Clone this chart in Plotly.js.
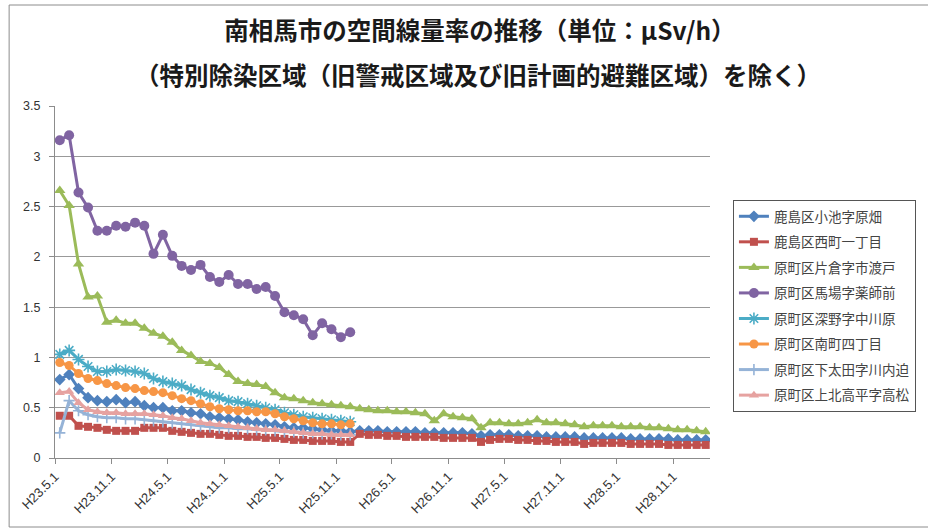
<!DOCTYPE html>
<html>
<head>
<meta charset="utf-8">
<script src="https://cdn.plot.ly/plotly-3.0.1.min.js"></script>
<style>
html,body{margin:0;padding:0;background:#fff;}
#chart{width:928px;height:529px;}
</style>
</head>
<body>
<div id="chart"></div>
<script>
// ---- data (monthly, starting H23.5 = May 2011) ----
const startYear = 2011, startMonth = 5, monthCount = 70;

const seriesNames = [
  "鹿島区小池字原畑",
  "鹿島区西町一丁目",
  "原町区片倉字市渡戸",
  "原町区馬場字薬師前",
  "原町区深野字中川原",
  "原町区南町四丁目",
  "原町区下太田字川内迫",
  "原町区上北高平字高松"
];

const koikeHarahata = [0.78,0.83,0.69,0.60,0.57,0.56,0.58,0.55,0.56,0.52,0.50,0.50,0.47,0.47,0.45,0.44,0.41,0.40,0.39,0.38,
  0.36,0.35,0.34,0.33,0.31,0.30,0.30,0.29,0.28,0.27,0.27,0.26,0.27,0.27,0.27,0.26,0.26,0.26,0.26,0.25,
  0.25,0.25,0.25,0.25,0.24,0.22,0.23,0.23,0.23,0.22,0.22,0.22,0.21,0.21,0.21,0.21,0.20,0.20,0.20,0.20,
  0.20,0.19,0.19,0.19,0.19,0.19,0.18,0.18,0.18,0.18];

const nishimachi1 = [0.42,0.42,0.32,0.31,0.30,0.28,0.27,0.27,0.27,0.30,0.30,0.30,0.27,0.26,0.25,0.24,0.24,0.23,0.22,0.22,
  0.21,0.21,0.20,0.20,0.19,0.18,0.18,0.17,0.17,0.17,0.16,0.16,0.24,0.23,0.23,0.22,0.22,0.21,0.21,0.21,
  0.21,0.20,0.20,0.20,0.20,0.16,0.18,0.19,0.19,0.18,0.18,0.17,0.17,0.16,0.16,0.16,0.14,0.15,0.15,0.15,
  0.15,0.14,0.14,0.14,0.14,0.13,0.13,0.13,0.13,0.13];

const katakuraIchiwatado = [2.66,2.51,1.93,1.60,1.61,1.35,1.37,1.34,1.34,1.29,1.24,1.21,1.15,1.07,1.02,0.96,0.94,0.90,0.83,0.76,
  0.74,0.73,0.71,0.65,0.60,0.59,0.57,0.55,0.54,0.53,0.52,0.51,0.49,0.48,0.47,0.47,0.46,0.46,0.45,0.44,
  0.37,0.44,0.41,0.40,0.39,0.30,0.35,0.35,0.34,0.34,0.35,0.38,0.35,0.35,0.34,0.33,0.31,0.32,0.32,0.32,
  0.31,0.31,0.31,0.30,0.30,0.29,0.28,0.28,0.27,0.26];

const babaYakushimae = [3.16,3.21,2.64,2.49,2.26,2.26,2.31,2.30,2.34,2.31,2.03,2.22,2.01,1.91,1.87,1.92,1.80,1.75,1.82,1.73,
  1.73,1.68,1.70,1.61,1.45,1.42,1.38,1.22,1.34,1.28,1.20,1.25];

const fukanoNakagawara = [1.03,1.07,0.98,0.91,0.86,0.86,0.88,0.87,0.86,0.84,0.79,0.76,0.74,0.72,0.68,0.65,0.62,0.60,0.57,0.56,
  0.54,0.52,0.50,0.48,0.45,0.43,0.41,0.40,0.39,0.38,0.37,0.36];

const minamimachi4 = [0.95,0.92,0.84,0.79,0.77,0.74,0.72,0.70,0.69,0.67,0.66,0.65,0.62,0.59,0.57,0.54,0.51,0.49,0.48,0.47,
  0.47,0.46,0.46,0.44,0.41,0.39,0.37,0.35,0.34,0.34,0.33,0.34];

const shimootaKawauchisako = [0.25,0.57,0.47,0.43,0.41,0.40,0.40,0.39,0.39,0.38,0.37,0.36,0.35,0.34,0.33,0.32,0.31,0.30,0.30,0.29,
  0.29,0.28,0.28,0.27,0.26,0.26,0.25,0.25,0.24,0.24,0.23,0.23];

const kamikitaTakahiraTakamatsu = [0.65,0.66,0.55,0.48,0.46,0.45,0.45,0.44,0.44,0.44,0.43,0.42,0.40,0.39,0.37,0.35,0.34,0.33,0.32,0.31,
  0.30,0.29,0.28,0.28,0.27,0.26,0.25,0.24,0.24,0.23,0.23,0.23];

const tickDates = ["2011-05-01","2011-11-01","2012-05-01","2012-11-01","2013-05-01","2013-11-01",
  "2014-05-01","2014-11-01","2015-05-01","2015-11-01","2016-05-01","2016-11-01"];
const tickLabels = ["H23.5.1","H23.11.1","H24.5.1","H24.11.1","H25.5.1","H25.11.1",
  "H26.5.1","H26.11.1","H27.5.1","H27.11.1","H28.5.1","H28.11.1"];

const titleLine1 = "南相馬市の空間線量率の推移（単位：μSv/h）";
const titleLine2 = "（特別除染区域（旧警戒区域及び旧計画的避難区域）を除く）";

// ---- build month categories ----
const months = [];
for (let k = 0; k < monthCount; k++) {
  const m0 = startMonth - 1 + k;
  const y = startYear + Math.floor(m0 / 12);
  const m = (m0 % 12) + 1;
  months.push(y + "-" + String(m).padStart(2, "0") + "-01");
}

const seriesValues = [koikeHarahata, nishimachi1, katakuraIchiwatado, babaYakushimae,
  fukanoNakagawara, minamimachi4, shimootaKawauchisako, kamikitaTakahiraTakamatsu];
const colors = ["#4F81BD","#C0504D","#9BBB59","#8064A2","#4BACC6","#F79646","#95B3D7","#E6A2A0"];
const symbols = ["diamond","square","triangle-up","circle","asterisk-open","circle","cross-thin-open","triangle-up"];
const sizes = [9,8,10,10,10,9,8,9];

const traces = seriesValues.map((vals, s) => ({
  type: "scatter",
  mode: "lines+markers",
  name: seriesNames[s],
  legendgroup: "g" + s,
  x: months.slice(0, vals.length),
  y: vals,
  xperiod: "M1",
  xperiodalignment: "middle",
  line: {color: colors[s], width: 3},
  marker: {symbol: symbols[s], size: sizes[s], color: colors[s],
           line: {color: colors[s], width: (symbols[s].indexOf("open") >= 0 ? 1.6 : 0)}}
}));

const px2paperX = p => (p - 55) / (712 - 55);
const px2paperY = p => (458 - p) / (458 - 106);

const layout = {
  width: 928, height: 529,
  margin: {l: 55, r: 216, t: 106, b: 71},
  paper_bgcolor: "#fff", plot_bgcolor: "#fff",
  font: {family: "Liberation Sans, Arial, sans-serif", color: "#333"},
  title: {
    text: titleLine1,
    font: {family: "Noto Sans CJK JP", size: 24.5, color: "#1a1a1a", weight: "bold"},
    x: 480 / 928, xanchor: "center", xref: "container",
    y: 1 - 31 / 529, yanchor: "middle", yref: "container"
  },
  annotations: [{
    text: titleLine2, showarrow: false,
    xref: "paper", yref: "paper",
    x: px2paperX(479), y: px2paperY(74), xanchor: "center", yanchor: "middle",
    font: {family: "Noto Sans CJK JP", size: 24.5, color: "#1a1a1a", weight: "bold"}
  }],
  shapes: [{
    type: "rect", xref: "paper", yref: "paper",
    x0: px2paperX(9), x1: px2paperX(935), y0: px2paperY(527), y1: px2paperY(5),
    line: {color: "#8c8c8c", width: 1}, fillcolor: "rgba(0,0,0,0)", layer: "below"
  }],
  xaxis: {
    type: "date",
    range: ["2011-05-01", "2017-03-01"],
    tickmode: "array", tickvals: tickDates, ticktext: tickLabels,
    tickangle: -45, ticks: "outside", ticklen: 5, tickcolor: "#8c8c8c",
    showline: true, linecolor: "#8c8c8c", linewidth: 1,
    showgrid: false, zeroline: false,
    tickfont: {family: "Liberation Sans, Arial, sans-serif", size: 13, color: "#333"}
  },
  yaxis: {
    range: [0, 3.5], dtick: 0.5, tick0: 0,
    ticks: "outside", ticklen: 5, tickcolor: "#8c8c8c",
    showline: true, linecolor: "#8c8c8c", linewidth: 1,
    showgrid: true, gridcolor: "#999", gridwidth: 1, zeroline: false,
    ticklabelstandoff: 6,
    tickfont: {family: "Liberation Sans, Arial, sans-serif", size: 12.5, color: "#333"}
  },
  legend: {
    x: px2paperX(735), y: px2paperY(200), xanchor: "left", yanchor: "top",
    bgcolor: "#fff", bordercolor: "#555", borderwidth: 1,
    font: {family: "Noto Sans CJK JP", size: 13.5, color: "#444"},
    traceorder: "grouped", tracegroupgap: 5, itemwidth: 30
  },
  showlegend: true
};

Plotly.newPlot("chart", traces, layout, {displayModeBar: false, staticPlot: true});
</script>
</body>
</html>
